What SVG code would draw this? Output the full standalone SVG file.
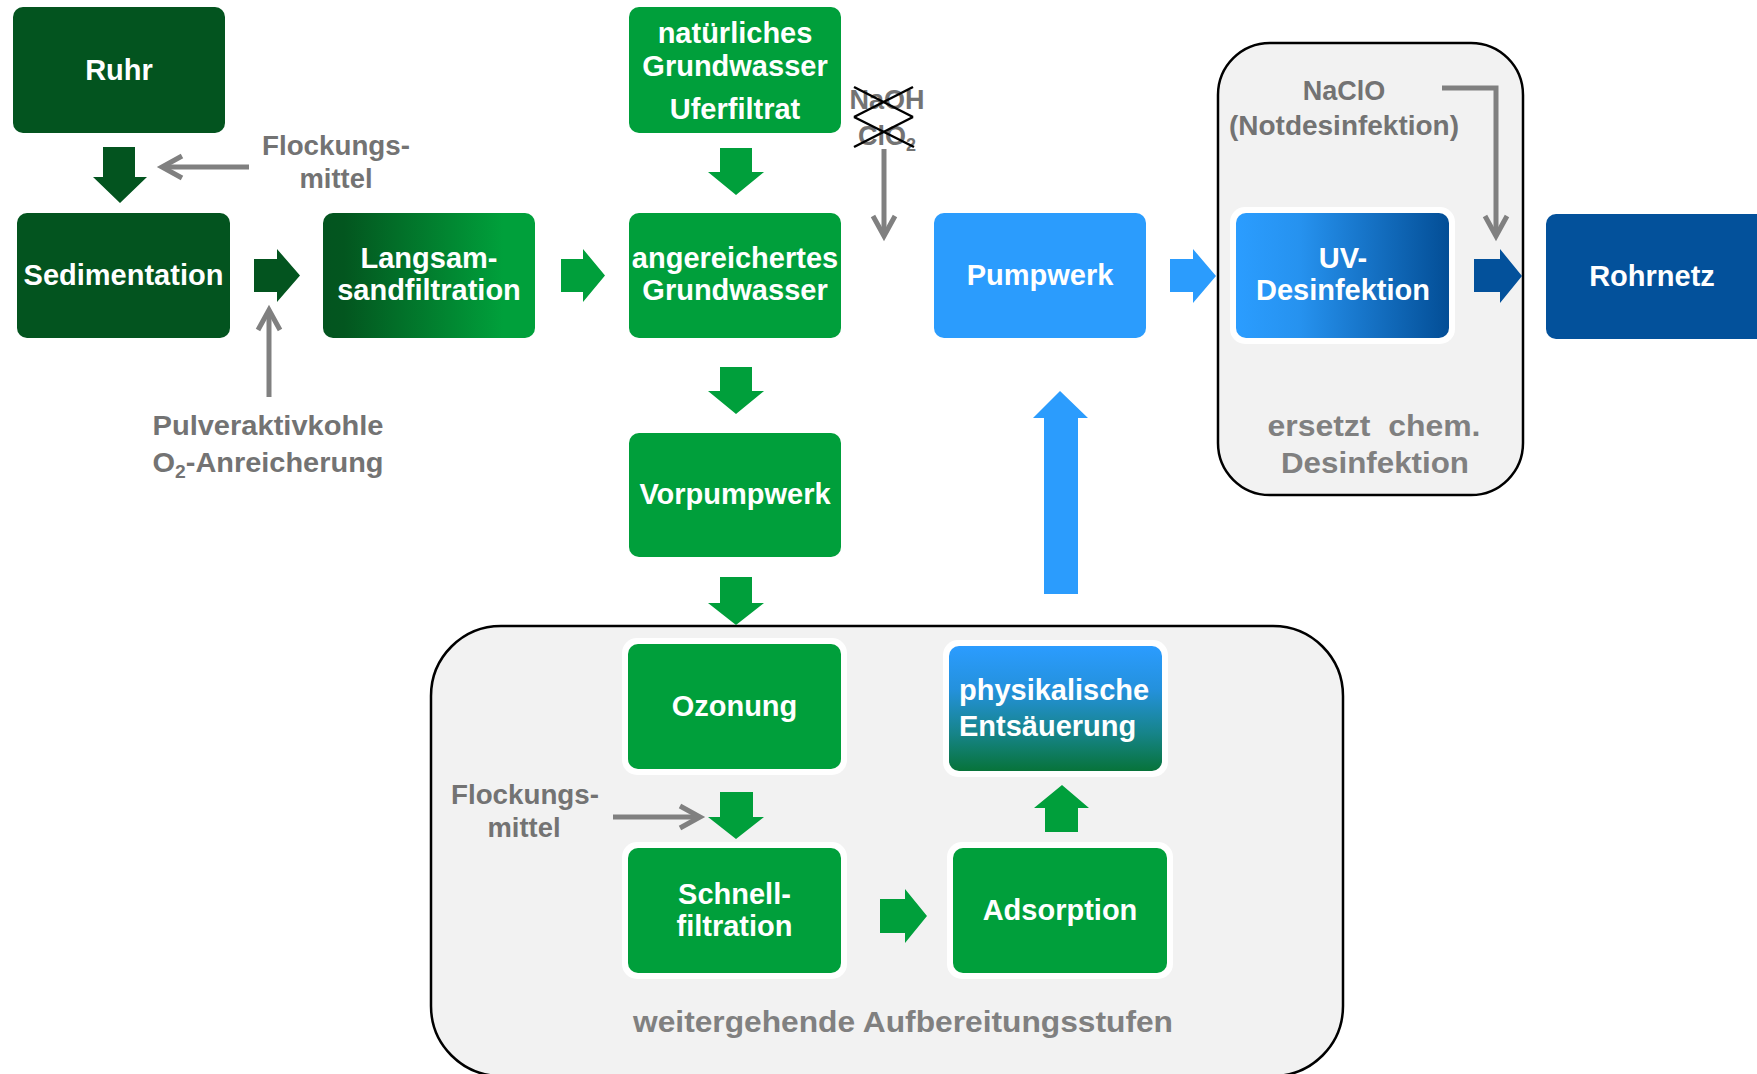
<svg xmlns="http://www.w3.org/2000/svg" width="1757" height="1074" viewBox="0 0 1757 1074">
<defs>
<style>
.n{font-family:"Liberation Sans",Arial,sans-serif;font-weight:bold;font-size:29px;fill:#fff;text-anchor:middle}
.g{font-family:"Liberation Sans",Arial,sans-serif;font-weight:bold;font-size:27px;fill:#737373;text-anchor:middle}
.c{font-family:"Liberation Sans",Arial,sans-serif;font-weight:bold;font-size:29px;fill:#808080;text-anchor:middle;white-space:pre}
.ga{fill:none;stroke:#808080;stroke-width:5}
.halo{fill:#fff}
.cont{fill:#f2f2f2;stroke:#000;stroke-width:2.5}
</style>
<linearGradient id="gLang" x1="0" y1="0" x2="1" y2="0">
<stop offset="0" stop-color="#03541f"/><stop offset="0.1" stop-color="#03561f"/><stop offset="0.85" stop-color="#00a03b"/><stop offset="1" stop-color="#00a03b"/>
</linearGradient>
<linearGradient id="gUV" x1="0" y1="0" x2="1" y2="0">
<stop offset="0" stop-color="#2b9dff"/><stop offset="0.3" stop-color="#2692ef"/><stop offset="1" stop-color="#034e96"/>
</linearGradient>
<linearGradient id="gPhys" x1="0" y1="0" x2="0" y2="1">
<stop offset="0" stop-color="#2b9cff"/><stop offset="0.35" stop-color="#2491dc"/><stop offset="0.7" stop-color="#168489"/><stop offset="1" stop-color="#07733a"/>
</linearGradient>
<marker id="chev" markerUnits="userSpaceOnUse" markerWidth="40" markerHeight="40" viewBox="-30 -20 40 40" refX="0" refY="0" orient="auto">
<path d="M-20,-11 L0,0 L-20,11" fill="none" stroke="#808080" stroke-width="5"/>
</marker>
</defs>

<rect width="1757" height="1074" fill="#fff"/>

<g id="containers">
<rect id="uv-container" class="cont" x="1218" y="43" width="305" height="452" rx="52"/>
<rect id="advanced-container" class="cont" x="431" y="626" width="912" height="450" rx="70"/>
</g>

<g id="connectors">
<!-- block arrows -->
<polygon fill="#03541f" points="103,147 135,147 135,177 147,177 120,203 93,177 103,177"/>
<polygon fill="#03541f" points="254,259 277,259 277,249 300,275.5 277,302 277,292 254,292"/>
<polygon fill="#009f3b" points="561,259 583,259 583,249 605,275.5 583,302 583,292 561,292"/>
<polygon fill="#009f3b" points="720,148 752,148 752,172 764,172 736,195 708,172 720,172"/>
<polygon fill="#009f3b" points="720,367 752,367 752,391 764,391 736,414 708,391 720,391"/>
<polygon fill="#009f3b" points="720,577 752,577 752,603 764,603 736,625 708,603 720,603"/>
<polygon fill="#009f3b" points="720,792 753,792 753,817 764,817 736,839 708,817 720,817"/>
<polygon fill="#009f3b" points="880,899 905,899 905,889 927,916 905,943 905,933 880,933"/>
<polygon fill="#009f3b" points="1045,832 1045,808 1034,808 1062,785 1089,808 1078,808 1078,832"/>
<polygon fill="#2b9cfd" points="1044,594 1044,418 1033,418 1060,391 1088,418 1078,418 1078,594"/>
<polygon fill="#2b9cfd" points="1170,259 1193,259 1193,249 1216,276 1193,303 1193,292 1170,292"/>
<polygon fill="#03519b" points="1474,259 1500,259 1500,249 1522,276 1500,303 1500,292 1474,292"/>
<!-- thin gray arrows -->
<path class="ga" d="M249,167 L162,167" marker-end="url(#chev)"/>
<path class="ga" d="M269,397 L269,310" marker-end="url(#chev)"/>
<path class="ga" d="M884,149 L884,236" marker-end="url(#chev)"/>
<path class="ga" d="M1442,88 L1496,88 L1496,236" marker-end="url(#chev)"/>
<path class="ga" d="M613,817 L700,817" marker-end="url(#chev)"/>
</g>

<g id="ruhr"><rect x="13" y="7" width="212" height="126" rx="10" fill="#03541f"/><text class="n" x="119" y="80">Ruhr</text></g>
<g id="sedimentation"><rect x="17" y="213" width="213" height="125" rx="10" fill="#03541f"/><text class="n" x="123.5" y="285">Sedimentation</text></g>
<g id="langsam"><rect x="323" y="213" width="212" height="125" rx="10" fill="url(#gLang)"/><text class="n" x="429" y="268">Langsam-</text><text class="n" x="429" y="300">sandfiltration</text></g>
<g id="natuerliches"><rect x="629" y="7" width="212" height="126" rx="10" fill="#009f3b"/><text class="n" x="735" y="43">natürliches</text><text class="n" x="735" y="76">Grundwasser</text><text class="n" x="735" y="119">Uferfiltrat</text></g>
<g id="angereichertes"><rect x="629" y="213" width="212" height="125" rx="10" fill="#009f3b"/><text class="n" x="735" y="268">angereichertes</text><text class="n" x="735" y="300">Grundwasser</text></g>
<g id="vorpumpwerk"><rect x="629" y="433" width="212" height="124" rx="10" fill="#009f3b"/><text class="n" x="735" y="504">Vorpumpwerk</text></g>
<g id="pumpwerk"><rect x="934" y="213" width="212" height="125" rx="10" fill="#2b9cfd"/><text class="n" x="1040" y="285">Pumpwerk</text></g>
<g id="uv"><rect class="halo" x="1230" y="207" width="225" height="137" rx="15"/><rect x="1236" y="213" width="213" height="125" rx="10" fill="url(#gUV)"/><text class="n" x="1343" y="268">UV-</text><text class="n" x="1343" y="300">Desinfektion</text></g>
<g id="rohrnetz"><rect x="1546" y="214" width="230" height="125" rx="10" fill="#03519b"/><text class="n" x="1652" y="286">Rohrnetz</text></g>
<g id="ozonung"><rect class="halo" x="622" y="638" width="225" height="137" rx="15"/><rect x="628" y="644" width="213" height="125" rx="10" fill="#009f3b"/><text class="n" x="734.5" y="716">Ozonung</text></g>
<g id="physikalische"><rect class="halo" x="943" y="640" width="225" height="137" rx="15"/><rect x="949" y="646" width="213" height="125" rx="10" fill="url(#gPhys)"/><text class="n" x="959" y="700" style="text-anchor:start">physikalische</text><text class="n" x="959" y="736" style="text-anchor:start">Entsäuerung</text></g>
<g id="schnellfiltration"><rect class="halo" x="622" y="842" width="225" height="137" rx="15"/><rect x="628" y="848" width="213" height="125" rx="10" fill="#009f3b"/><text class="n" x="734.5" y="904">Schnell-</text><text class="n" x="734.5" y="936">filtration</text></g>
<g id="adsorption"><rect class="halo" x="947" y="842" width="226" height="137" rx="15"/><rect x="953" y="848" width="214" height="125" rx="10" fill="#009f3b"/><text class="n" x="1060" y="920">Adsorption</text></g>

<g id="labels">
<text class="g" x="336" y="155" textLength="148" lengthAdjust="spacingAndGlyphs">Flockungs-</text>
<text class="g" x="336" y="188" textLength="73" lengthAdjust="spacingAndGlyphs">mittel</text>
<text class="g" x="268" y="435" textLength="231" lengthAdjust="spacingAndGlyphs">Pulveraktivkohle</text>
<text class="g" x="268" y="472" textLength="231" lengthAdjust="spacingAndGlyphs">O<tspan font-size="18" dy="6">2</tspan><tspan dy="-6">-Anreicherung</tspan></text>
<text class="g" x="887" y="109">NaOH</text>
<text class="g" x="887" y="145">ClO<tspan font-size="18" dy="6">2</tspan></text>
<g stroke="#000" stroke-width="2.5">
<line x1="854" y1="87" x2="913" y2="117"/><line x1="913" y1="87" x2="854" y2="117"/>
<line x1="854" y1="117" x2="914" y2="147"/><line x1="913" y1="117" x2="854" y2="147"/>
</g>
<text class="g" x="1344" y="100">NaClO</text>
<text class="g" x="1344" y="135" textLength="230" lengthAdjust="spacingAndGlyphs">(Notdesinfektion)</text>
<text class="c" x="1374" y="436" textLength="213" lengthAdjust="spacingAndGlyphs">ersetzt  chem.</text>
<text class="c" x="1375" y="473" textLength="188" lengthAdjust="spacingAndGlyphs">Desinfektion</text>
<text class="g" x="525" y="804" textLength="148" lengthAdjust="spacingAndGlyphs">Flockungs-</text>
<text class="g" x="524" y="837" textLength="73" lengthAdjust="spacingAndGlyphs">mittel</text>
<text class="c" x="903" y="1032" textLength="540" lengthAdjust="spacingAndGlyphs">weitergehende Aufbereitungsstufen</text>
</g>
</svg>
